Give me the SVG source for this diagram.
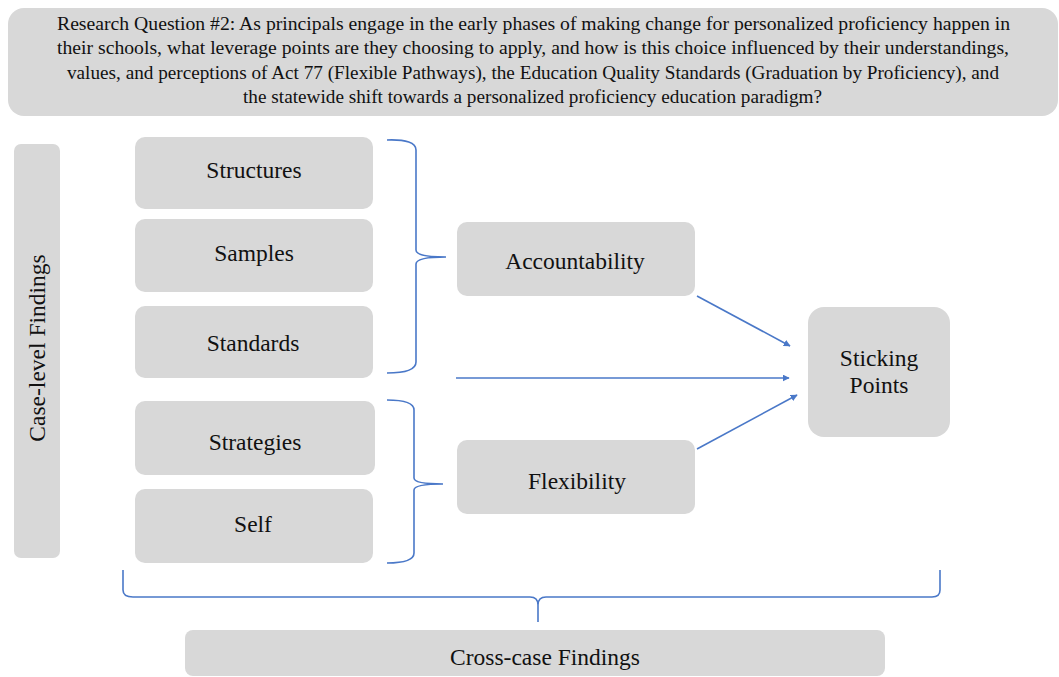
<svg xmlns="http://www.w3.org/2000/svg" width="1059" height="677" viewBox="0 0 1059 677">
<defs>
<style>
.box{fill:#d8d8d8;}
.t{font-family:"Liberation Serif","Times New Roman",serif;fill:#111;}
.lbl{font-size:23.5px;text-anchor:middle;}
.q{font-size:18px;}
.br{fill:none;stroke:#4a78c8;stroke-width:1.6;}
.ar{fill:none;stroke:#4a78c8;stroke-width:1.6;marker-end:url(#ah);}
</style>
<marker id="ah" viewBox="0 0 10 10" refX="9" refY="5" markerWidth="7" markerHeight="7" orient="auto" markerUnits="userSpaceOnUse">
<path d="M0,0 L10,5 L0,10 z" fill="#4a78c8"/>
</marker>
</defs>
<rect width="1059" height="677" fill="#fff"/>
<g id="question">
<rect class="box" x="8" y="8" width="1050" height="108" rx="16"/>
<text class="t q" x="57" y="30" textLength="953" lengthAdjust="spacingAndGlyphs">Research Question #2: As principals engage in the early phases of making change for personalized proficiency happen in</text>
<text class="t q" x="57" y="54" textLength="952" lengthAdjust="spacingAndGlyphs">their schools, what leverage points are they choosing to apply, and how is this choice influenced by their understandings,</text>
<text class="t q" x="67" y="79" textLength="932" lengthAdjust="spacingAndGlyphs">values, and perceptions of Act 77 (Flexible Pathways), the Education Quality Standards (Graduation by Proficiency), and</text>
<text class="t q" x="243" y="103" textLength="579" lengthAdjust="spacingAndGlyphs">the statewide shift towards a personalized proficiency education paradigm?</text>
</g>
<g id="case-level">
<rect class="box" x="14" y="144" width="46" height="414" rx="7"/>
<text class="t lbl" transform="translate(45,348) rotate(-90)">Case-level Findings</text>
</g>
<g id="structures">
<rect class="box" x="135" y="137" width="238" height="72" rx="10"/>
<text class="t lbl" x="254" y="178">Structures</text>
</g>
<g id="samples">
<rect class="box" x="135" y="219" width="238" height="73" rx="10"/>
<text class="t lbl" x="254" y="261">Samples</text>
</g>
<g id="standards">
<rect class="box" x="135" y="306" width="238" height="72" rx="10"/>
<text class="t lbl" x="253" y="351">Standards</text>
</g>
<g id="strategies">
<rect class="box" x="135" y="401" width="240" height="74" rx="10"/>
<text class="t lbl" x="255" y="450">Strategies</text>
</g>
<g id="self">
<rect class="box" x="135" y="489" width="238" height="74" rx="10"/>
<text class="t lbl" x="253" y="532">Self</text>
</g>
<g id="accountability">
<rect class="box" x="457" y="222" width="238" height="74" rx="10"/>
<text class="t lbl" x="575" y="269">Accountability</text>
</g>
<g id="flexibility">
<rect class="box" x="457" y="440" width="238" height="74" rx="10"/>
<text class="t lbl" x="577" y="489">Flexibility</text>
</g>
<g id="sticking-points">
<rect class="box" x="808" y="307" width="142" height="130" rx="16"/>
<text class="t lbl" x="879" y="366">Sticking</text>
<text class="t lbl" x="879" y="393">Points</text>
</g>
<g id="cross-case">
<rect class="box" x="185" y="630" width="700" height="46" rx="8"/>
<text class="t lbl" x="545" y="665">Cross-case Findings</text>
</g>
<g id="connectors">
<path class="br" d="M387,140 Q416,139 416,150 L416,250 Q416,257 446,257 Q416,257 416,264 L416,362 Q416,373 387,373"/>
<path class="br" d="M387,400 Q414,400 414,410 L414,478 Q414,484 443,484 Q414,484 414,490 L414,553 Q414,563 387,563"/>
<path class="br" d="M123,570 L123,590 Q123,597 133,597 L530,597 Q538,597 538,605 L538,622 L538,605 Q538,597 546,597 L932,597 Q940,597 940,590 L940,570"/>
<path class="ar" d="M697,296 L790,346"/>
<path class="ar" d="M456,378 L789,378"/>
<path class="ar" d="M697,449 L797,395"/>
</g>
</svg>
